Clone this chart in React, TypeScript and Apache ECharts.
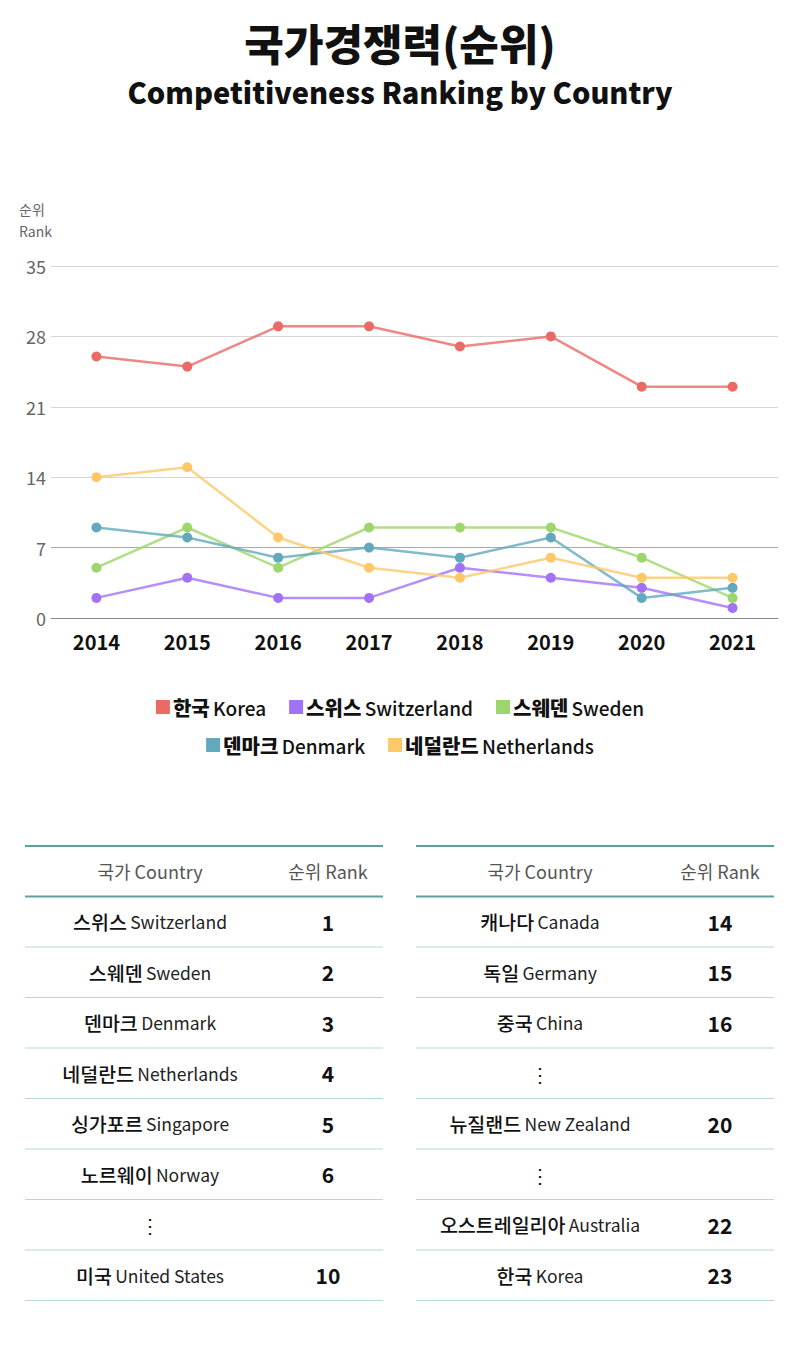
import React, { useEffect, useRef } from "react";
import * as echarts from "echarts";

const years = ["2014", "2015", "2016", "2017", "2018", "2019", "2020", "2021"];
const seriesNames = ["한국 Korea", "스위스 Switzerland", "스웨덴 Sweden", "덴마크 Denmark", "네덜란드 Netherlands"];
const korea = [26, 25, 29, 29, 27, 28, 23, 23];
const switzerland = [2, 4, 2, 2, 5, 4, 3, 1];
const sweden = [5, 9, 5, 9, 9, 9, 6, 2];
const denmark = [9, 8, 6, 7, 6, 8, 2, 3];
const netherlands = [14, 15, 8, 5, 4, 6, 4, 4];
const seriesColors = ["#ea6a66", "#a272f6", "#9dd66c", "#62a9bb", "#fcc86a"];

const leftCountries = ["스위스 Switzerland", "스웨덴 Sweden", "덴마크 Denmark", "네덜란드 Netherlands", "싱가포르 Singapore", "노르웨이 Norway", "⋮", "미국 United States"];
const leftRanks = ["1", "2", "3", "4", "5", "6", "", "10"];
const rightCountries = ["캐나다 Canada", "독일 Germany", "중국 China", "⋮", "뉴질랜드 New Zealand", "⋮", "오스트레일리아 Australia", "한국 Korea"];
const rightRanks = ["14", "15", "16", "", "20", "", "22", "23"];

const FONT = '"Noto Sans CJK KR", "Noto Sans", sans-serif';

function splitName(name: string) {
  const i = name.indexOf(" ");
  if (i < 0) return { k: name, e: "" };
  return { k: name.slice(0, i), e: name.slice(i + 1) };
}

function buildTable(x0: number, x1: number, countries: string[], ranks: string[], colC: number, colR: number) {
  const els: any[] = [];
  const top = 846;
  const headH = 50.5;
  const rowH = 50.5;
  els.push({ type: "line", shape: { x1: x0, y1: top, x2: x1, y2: top }, style: { stroke: "#5e9fa1", lineWidth: 2 } });
  els.push({ type: "line", shape: { x1: x0, y1: top + headH, x2: x1, y2: top + headH }, style: { stroke: "#5e9fa1", lineWidth: 2 } });
  els.push({
    type: "text", x: colC, y: top + headH / 2,
    style: { text: "국가 Country", fill: "#555", font: `18px ${FONT}`, align: "center", verticalAlign: "middle" },
  });
  els.push({
    type: "text", x: colR, y: top + headH / 2,
    style: { text: "순위 Rank", fill: "#555", font: `18px ${FONT}`, align: "center", verticalAlign: "middle" },
  });
  countries.forEach((c, i) => {
    const yc = top + headH + rowH * i + rowH / 2;
    const yb = top + headH + rowH * (i + 1);
    els.push({ type: "line", shape: { x1: x0, y1: yb, x2: x1, y2: yb }, style: { stroke: "#b7d6da", lineWidth: 1 } });
    const p = splitName(c);
    els.push({
      type: "text", x: colC, y: yc,
      style: {
        text: p.e ? `{k|${p.k}} {e|${p.e}}` : `{k|${p.k}}`,
        align: "center", verticalAlign: "middle",
        rich: {
          k: { fontFamily: FONT, fontSize: 19.5, fill: "#111", fontWeight: 500 },
          e: { fontFamily: FONT, fontSize: 17.5, fill: "#222", fontWeight: 400 },
        },
      },
    });
    if (ranks[i]) {
      els.push({
        type: "text", x: colR, y: yc,
        style: { text: ranks[i], fill: "#111", font: `bold 21px ${FONT}`, align: "center", verticalAlign: "middle" },
      });
    }
  });
  return els;
}

export default function App() {
  const ref = useRef<HTMLDivElement>(null);
  useEffect(() => {
    if (!ref.current) return;
    const chart = echarts.init(ref.current, undefined, { renderer: "svg" });
    const data = [korea, switzerland, sweden, denmark, netherlands];
    const legendFormatter = (name: string) => {
      const p = splitName(name);
      return `{k|${p.k}} {e|${p.e}}`;
    };
    const legendRich = {
      k: { fontFamily: FONT, fontSize: 20, fontWeight: 900, color: "#111" },
      e: { fontFamily: FONT, fontSize: 19, fontWeight: 500, color: "#111" },
    };
    const legendBase = {
      left: "center",
      itemWidth: 14,
      itemHeight: 14,
      itemGap: 23,
      icon: "rect",
      formatter: legendFormatter,
      textStyle: { rich: legendRich, padding: [0, 0, 0, -2] },
    };
    chart.setOption({
      animation: false,
      backgroundColor: "#ffffff",
      title: [
        {
          text: "국가경쟁력(순위)",
          left: "center",
          top: 15,
          textStyle: { fontFamily: FONT, fontSize: 43, fontWeight: 900, color: "#111" },
        },
        {
          text: "Competitiveness Ranking by Country",
          left: "center",
          top: 71,
          textStyle: { fontFamily: FONT, fontSize: 29, fontWeight: 900, color: "#111" },
        },
      ],
      legend: [
        { ...legendBase, top: 692, data: seriesNames.slice(0, 3) },
        { ...legendBase, top: 730, data: seriesNames.slice(3) },
      ],
      grid: { left: 51, top: 266, width: 727, height: 352, containLabel: false },
      xAxis: {
        type: "category",
        data: years,
        boundaryGap: true,
        axisLine: { show: true, lineStyle: { color: "#888", width: 1 } },
        axisTick: { show: false },
        axisLabel: { fontFamily: FONT, fontSize: 20, fontWeight: "bold", color: "#111", margin: 13 },
      },
      yAxis: {
        type: "value",
        min: 0,
        max: 35,
        interval: 7,
        name: "순위\nRank",
        nameLocation: "end",
        nameGap: 24,
        nameTextStyle: { fontFamily: FONT, fontSize: 14, color: "#666", align: "left", padding: [0, 0, 0, -32], lineHeight: 22 },
        axisLine: { show: false },
        axisTick: { show: false },
        axisLabel: { fontFamily: FONT, fontSize: 18, color: "#666", margin: 5 },
        splitLine: { lineStyle: { color: ["#888", "#aaa", "#d6d6d6", "#d6d6d6", "#d6d6d6", "#d6d6d6"], width: 1 } },
      },
      series: seriesNames.map((n, i) => ({
        name: n,
        type: "line",
        data: data[i],
        symbol: "circle",
        symbolSize: 10,
        itemStyle: { color: seriesColors[i] },
        lineStyle: { color: seriesColors[i], width: 2.5, opacity: 0.8 },
      })),
      graphic: [
        ...buildTable(25, 383, leftCountries, leftRanks, 150, 328),
        ...buildTable(416, 774, rightCountries, rightRanks, 540, 720),
      ],
    });
    return () => chart.dispose();
  }, []);
  return <div ref={ref} style={{ position: "absolute", left: 0, top: 0, width: 800, height: 1351 }} />;
}
